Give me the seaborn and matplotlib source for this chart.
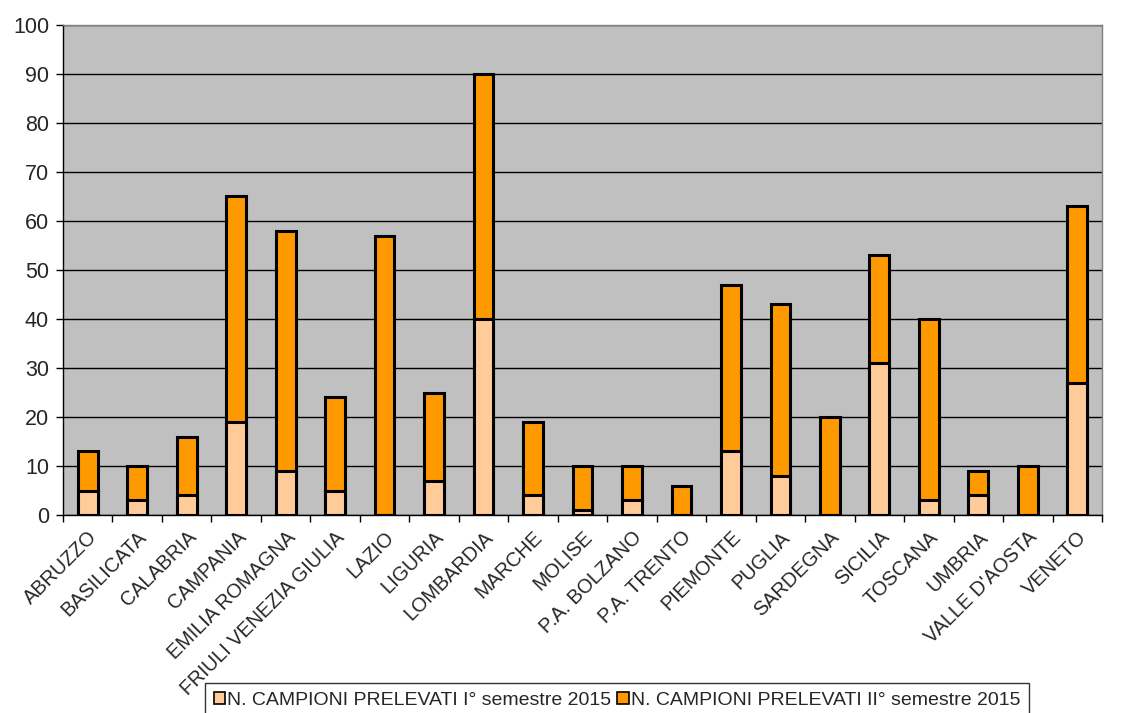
import matplotlib
matplotlib.use("Agg")
import matplotlib.pyplot as plt
import seaborn as sns
import pandas as pd
import numpy as np
from matplotlib.patches import Patch

regions = ["ABRUZZO", "BASILICATA", "CALABRIA", "CAMPANIA", "EMILIA ROMAGNA",
           "FRIULI VENEZIA GIULIA", "LAZIO", "LIGURIA", "LOMBARDIA", "MARCHE",
           "MOLISE", "P.A. BOLZANO", "P.A. TRENTO", "PIEMONTE", "PUGLIA",
           "SARDEGNA", "SICILIA", "TOSCANA", "UMBRIA", "VALLE D'AOSTA", "VENETO"]
sem1 = [5, 3, 4, 19, 9, 5, 0, 7, 40, 4, 1, 3, 0, 13, 8, 0, 31, 3, 4, 0, 27]
sem2 = [8, 7, 12, 46, 49, 19, 57, 18, 50, 15, 9, 7, 6, 34, 35, 20, 22, 37, 5, 10, 36]
series_labels = ["N. CAMPIONI PRELEVATI I° semestre 2015",
                 "N. CAMPIONI PRELEVATI II° semestre 2015"]

c1 = "#FFCC99"
c2 = "#FF9900"

df = pd.DataFrame({"region": regions, "sem1": sem1, "sem2": sem2})
df["total"] = df["sem1"] + df["sem2"]

sns.set_style("white")
plt.rcParams["font.family"] = ["Liberation Sans", "DejaVu Sans"]

fig = plt.figure(figsize=(11.26, 7.13), dpi=100)
ax = fig.add_axes([63 / 1126, 1 - 515 / 713, (1102 - 63) / 1126, 490 / 713])
ax.set_facecolor("#C0C0C0")

# stacked bars: draw the totals first, then the first-semester part on top
sns.barplot(data=df, x="region", y="total", color=c2, width=0.4,
            edgecolor="black", linewidth=2.2, saturation=1, ax=ax, zorder=3)
sns.barplot(data=df, x="region", y="sem1", color=c1, width=0.4,
            edgecolor="black", linewidth=2.2, saturation=1, ax=ax, zorder=3)

ax.set_ylim(0, 100)
ax.set_xlim(-0.5, len(regions) - 0.5)
ax.set_yticks(np.arange(0, 101, 10))
ax.yaxis.grid(True, color="black", linewidth=1)
ax.set_axisbelow(True)
ax.tick_params(axis="y", labelsize=15.5, length=5, width=1, direction="out",
               left=True, color="black", pad=5)
ax.set_xticks(range(len(regions)))
ax.set_xticklabels(regions, rotation=45, ha="right", rotation_mode="anchor",
                   fontsize=14.3)
ax.tick_params(axis="x", length=0, pad=9)
ax.set_xticks(np.arange(-0.5, len(regions), 1), minor=True)
ax.tick_params(axis="x", which="minor", length=5, width=1, bottom=True,
               color="black")
ax.set_xlabel("")
ax.set_ylabel("")

for side in ["top", "right"]:
    ax.spines[side].set_color("#808080")
    ax.spines[side].set_linewidth(1)
for side in ["left", "bottom"]:
    ax.spines[side].set_color("black")
    ax.spines[side].set_linewidth(1)

handles = [Patch(facecolor=c1, edgecolor="black", linewidth=1.2),
           Patch(facecolor=c2, edgecolor="black", linewidth=1.2)]
leg = fig.legend(handles, series_labels, loc="upper left",
                 bbox_to_anchor=(205 / 1126, 1 - 683 / 713), ncol=2,
                 fontsize=14.0, frameon=True, fancybox=False,
                 handlelength=0.6, handleheight=0.6, handletextpad=0.1,
                 columnspacing=0.3, borderpad=0.45, borderaxespad=0)
leg.get_frame().set_edgecolor("black")
leg.get_frame().set_linewidth(1)

fig.savefig("out.png", dpi=100)
